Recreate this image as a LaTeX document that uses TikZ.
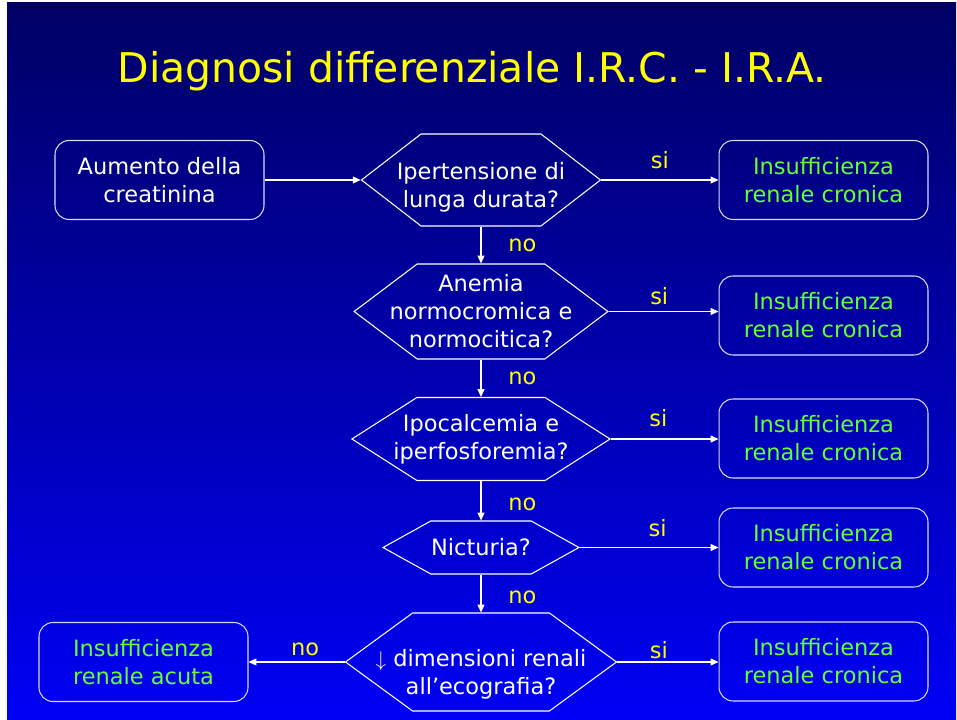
\documentclass[tikz,border=0pt]{standalone}
\usepackage{fontspec}
\setmainfont{DejaVu Sans}
\usetikzlibrary{shapes.symbols,arrows.meta}
\definecolor{slidetop}{RGB}{0,0,100}
\definecolor{slidebot}{RGB}{0,0,245}
\definecolor{resgreen}{RGB}{102,255,51}
\definecolor{labyellow}{RGB}{255,255,0}
\newcommand{\txtsize}{\fontsize{12.8}{16}\selectfont}
\begin{document}
\begin{tikzpicture}[x=0.02cm,y=0.02cm,
  box/.style={draw=white!85!blue,line width=0.6pt,rounded corners=0.28cm,minimum width=4.18cm,minimum height=1.58cm,align=center,font=\txtsize,inner sep=0pt},
  ask/.style={draw=white,line width=0.6pt,shape=signal,signal to=west and east,align=center,text=white,font=\txtsize,inner ysep=0pt},
  link/.style={draw=white,line width=0.6pt,-{Triangle[length=4.5pt,width=4pt]}},
  ans/.style={text=labyellow,font=\txtsize}]
% slide background
\fill[white] (0,0) rectangle (957,720);
\shade[top color=slidetop,bottom color=slidebot] (7,0) rectangle (956,717);
\node[anchor=base,text=labyellow,font=\fontsize{23.3}{28}\selectfont] (title) at (472,637) {Diagnosi differenziale I.R.C. - I.R.A.};
% nodes
\node[box,text=white] (start) at (159.5,540) {Aumento della\\creatinina};
\node[ask,inner xsep=-0.49cm,text height=34pt,minimum width=4.78cm,minimum height=1.84cm,signal pointer angle=75.4] (q1) at (481,540) {Ipertensione di\\lunga durata?};
\node[ask,inner xsep=-0.55cm,minimum width=5.06cm,minimum height=1.9cm,signal pointer angle=74] (q2) at (481,408.5) {Anemia\\normocromica e\\normocitica?};
\node[ask,inner xsep=-0.47cm,minimum width=5.16cm,minimum height=1.66cm,signal pointer angle=65.1] (q3) at (481,281) {Ipocalcemia e\\iperfosforemia?};
\node[ask,inner xsep=0pt,minimum width=3.92cm,minimum height=1.06cm,signal pointer angle=58] (q4) at (481,172.5) {Nicturia?};
\node[ask,inner xsep=-0.74cm,text height=40pt,minimum width=5.42cm,minimum height=1.96cm,signal pointer angle=72.3] (q5) at (481,58) {$\downarrow$ dimensioni renali\\all’ecografia?};
\node[box,text=resgreen] (r1) at (823.5,540) {Insufficienza\\renale cronica};
\node[box,text=resgreen] (r2) at (823.5,404.5) {Insufficienza\\renale cronica};
\node[box,text=resgreen] (r3) at (823.5,281.5) {Insufficienza\\renale cronica};
\node[box,text=resgreen] (r4) at (823.5,172.5) {Insufficienza\\renale cronica};
\node[box,text=resgreen] (r5) at (823.5,58.5) {Insufficienza\\renale cronica};
\node[box,text=resgreen] (acuta) at (143.5,58) {Insufficienza\\renale acuta};
% connectors
\draw[link] (start.east) -- (q1.west);
\draw[link] (q1.east) -- node[ans,above=3pt,pos=0.5] {si} (q1.east -| r1.west);
\draw[link] (q2.east) -- node[ans,above=0pt,pos=0.46] {si} (q2.east -| r2.west);
\draw[link] (q3.east) -- node[ans,above=3.5pt,pos=0.44] {si} (q3.east -| r3.west);
\draw[link] (q4.east) -- node[ans,above=2.5pt,pos=0.56] {si} (q4.east -| r4.west);
\draw[link] (q5.east) -- node[ans,above=-2pt,pos=0.41] {si} (q5.east -| r5.west);
\draw[link] (q5.west) -- node[ans,above,pos=0.41] {no} (q5.west -| acuta.east);
\draw[link] (q1.south) -- node[ans,right=12pt] {no} (q2.north);
\draw[link] (q2.south) -- node[ans,right=12pt] {no} (q3.north);
\draw[link] (q3.south) -- node[ans,right=12pt,yshift=-2pt] {no} (q4.north);
\draw[link] (q4.south) -- node[ans,right=12pt,yshift=-2pt] {no} (q5.north);
\end{tikzpicture}
\end{document}
